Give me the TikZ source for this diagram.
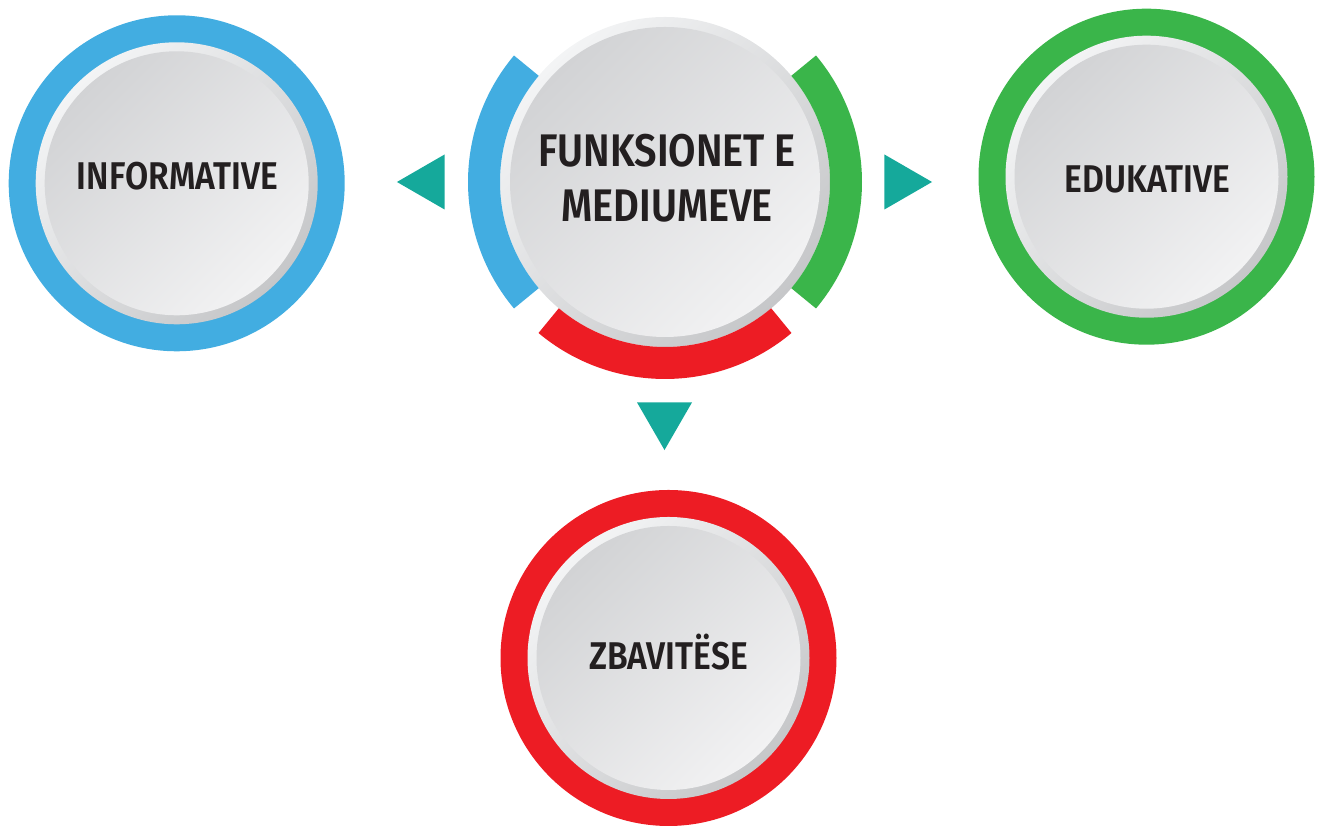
\documentclass[tikz,border=0pt]{standalone}
\usepackage{fontspec}
\newfontfamily\dinfont{Fira Sans}[FakeStretch=0.87,BoldFont={Fira Sans SemiBold}]
\usetikzlibrary{shapes.geometric}
\definecolor{infoblue}{HTML}{42ADE1}
\definecolor{edugreen}{HTML}{3AB54A}
\definecolor{funred}{HTML}{ED1C24}
\definecolor{markteal}{HTML}{15A99B}
\definecolor{rimlight}{HTML}{F3F4F5}
\definecolor{rimdark}{HTML}{C6C7C9}
\definecolor{facedark}{HTML}{D2D3D5}
\definecolor{facelight}{HTML}{F2F2F3}
\definecolor{ink}{HTML}{231F20}
\tikzset{ring/.style={circle,inner sep=0pt,minimum size=6.72cm},
	rim/.style={circle,inner sep=0pt,minimum size=5.64cm,top color=rimlight,bottom color=rimdark,shading angle=45},
	face/.style={circle,inner sep=0pt,minimum size=5.28cm,top color=facedark,bottom color=facelight,shading angle=45},
	caption/.style={font=\dinfont\bfseries\fontsize{22}{26}\selectfont,text=ink,anchor=base,inner sep=0pt},
	marker/.style={regular polygon,regular polygon sides=3,fill=markteal,inner sep=0pt,minimum size=1.27cm},
	segment/.style={line width=0.64cm},
}

\begin{document}
\begin{tikzpicture}
	\useasboundingbox (0,0) rectangle (26.34,16.52);
	
	% centre
	\node[rim,minimum size=6.6cm] (main rim) at (13.30,12.88){};
	\node[face,minimum size=6.2cm] (main face) at (main rim){};
	\node[caption,anchor=center,align=center,font=\dinfont\bfseries\fontsize{26}{31.3}\selectfont] (main) at (13.34,12.95){FUNKSIONET E\\MEDIUMEVE};
	\draw[segment,infoblue] ([shift={(140:3.62cm)}]main rim.center) arc[start angle=140,end angle=220,radius=3.62cm];
	\draw[segment,edugreen] ([shift={(-40:3.62cm)}]main rim.center) arc[start angle=-40,end angle=40,radius=3.62cm];
	\draw[segment,funred] ([shift={(230:3.62cm)}]main rim.center) arc[start angle=230,end angle=310,radius=3.62cm];
	
	% outer circles
	\node[ring,fill=infoblue] (info ring) at (3.534,12.854){};
	\node[rim] at (info ring){};
	\node[face] at (info ring){};
	\node[caption] (info) at (3.55,12.72){INFORMATIVE};
	
	\node[ring,fill=edugreen] (edu ring) at (22.93,12.986){};
	\node[rim] at (edu ring){};
	\node[face] at (edu ring){};
	\node[caption] (edu) at (22.95,12.66){EDUKATIVE};
	
	\node[ring,fill=funred] (fun ring) at (13.37,3.36){};
	\node[rim] at (fun ring){};
	\node[face] at (fun ring){};
	\node[caption] (fun) at (13.37,3.12){ZBAVITËSE};
	
	% markers
	\node[marker,shape border rotate=90] (to info) at (8.574,12.88){};
	\node[marker,shape border rotate=-90] (to edu) at (18.006,12.88){};
	\node[marker,shape border rotate=180] (to fun) at (13.29,8.154){};
\end{tikzpicture}
\end{document}
